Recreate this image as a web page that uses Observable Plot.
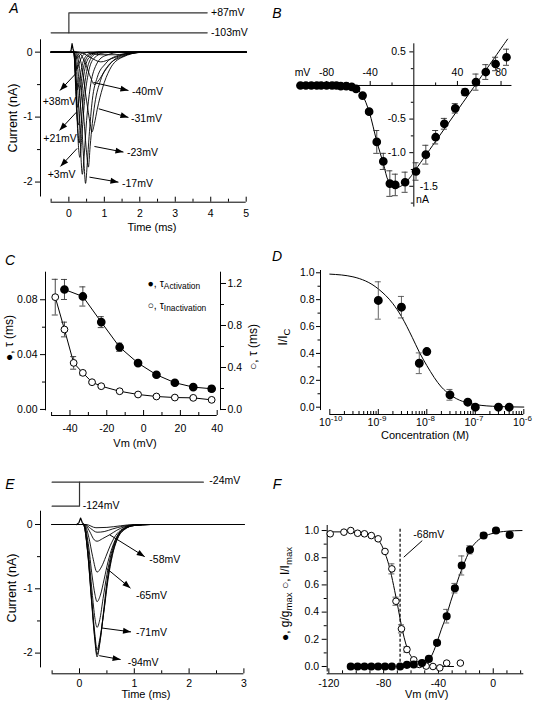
<!DOCTYPE html>
<html><head><meta charset="utf-8">
<script src="https://cdn.jsdelivr.net/npm/d3@7"></script>
<script src="https://cdn.jsdelivr.net/npm/@observablehq/plot@0.6"></script>
<style>
html,body{margin:0;padding:0;background:#fff;}
#wrap{position:relative;width:538px;height:708px;background:#fff;overflow:hidden;font-family:"Liberation Sans",Arial,Helvetica,sans-serif;color:#000;}
#wrap svg{position:absolute;left:0;top:0;}
.lab{position:absolute;white-space:nowrap;line-height:1;}
.lab sub{font-size:0.8em;vertical-align:-0.3em;line-height:0;}
</style></head><body><div id="wrap"></div>
<script>
// ---------------- DATA ----------------
// Panel A: current traces (t ms, I nA) per test potential
const aTraces = [
  {v:"+70", pts:[[-0.5,0],[0.14,0],[0.18,-0.05],[0.22,-0.1],[0.27,-0.07],[0.36,-0.02],[0.5,0],[5,0]]},
  {v:"+55", pts:[[-0.5,0],[0.14,0],[0.18,-0.12],[0.23,-0.26],[0.29,-0.17],[0.38,-0.06],[0.55,0],[5,0]]},
  {v:"+38", pts:[[-0.5,0],[0.14,0],[0.18,-0.25],[0.24,-0.58],[0.3,-0.42],[0.4,-0.15],[0.55,-0.03],[0.8,0],[5,0]]},
  {v:"+30", pts:[[-0.5,0],[0.14,0],[0.18,-0.32],[0.25,-0.85],[0.31,-0.6],[0.41,-0.24],[0.56,-0.05],[0.85,0],[5,0]]},
  {v:"+21", pts:[[-0.5,0],[0.14,0],[0.18,-0.4],[0.22,-0.92],[0.27,-1.12],[0.33,-0.8],[0.42,-0.36],[0.56,-0.09],[0.85,0],[5,0]]},
  {v:"+12", pts:[[-0.5,0],[0.14,0],[0.19,-0.42],[0.24,-1.05],[0.29,-1.4],[0.35,-1.05],[0.44,-0.52],[0.56,-0.17],[0.75,-0.03],[1.1,0],[5,0]]},
  {v:"+3",  pts:[[-0.5,0],[0.14,0],[0.2,-0.5],[0.25,-1.25],[0.31,-1.62],[0.37,-1.25],[0.45,-0.7],[0.55,-0.32],[0.7,-0.1],[1,-0.01],[1.4,0],[5,0]]},
  {v:"-7",  pts:[[-0.5,0],[0.15,0],[0.22,-0.3],[0.3,-1.1],[0.38,-1.88],[0.43,-1.6],[0.5,-1.05],[0.6,-0.55],[0.75,-0.22],[1,-0.06],[1.5,0],[5,0]]},
  {v:"-17", pts:[[-0.5,0],[0.18,0],[0.26,-0.3],[0.36,-1.1],[0.43,-1.75],[0.47,-2.02],[0.52,-1.7],[0.57,-1.3],[0.66,-0.74],[0.8,-0.39],[1.03,-0.18],[1.4,-0.05],[2,0],[5,0]]},
  {v:"-23", pts:[[-0.5,0],[0.2,0],[0.3,-0.25],[0.42,-1.0],[0.5,-1.55],[0.55,-1.77],[0.6,-1.45],[0.66,-1.1],[0.73,-0.8],[0.89,-0.44],[1.12,-0.2],[1.5,-0.07],[2,0],[5,0]]},
  {v:"-31", pts:[[-0.5,0],[0.22,0],[0.35,-0.18],[0.5,-0.75],[0.6,-1.1],[0.65,-1.23],[0.72,-1.1],[0.8,-0.88],[0.95,-0.55],[1.15,-0.27],[1.5,-0.08],[2.1,0],[5,0]]},
  {v:"-40", pts:[[-0.5,0],[0.25,0],[0.45,-0.15],[0.62,-0.4],[0.72,-0.5],[0.82,-0.45],[1,-0.3],[1.25,-0.13],[1.6,-0.04],[2.2,0],[5,0]]},
  {v:"-48", pts:[[-0.5,0],[0.3,0],[0.6,-0.08],[0.9,-0.15],[1.2,-0.1],[1.6,-0.03],[2.2,0],[5,0]]},
  {v:"-53", pts:[[-0.5,0],[0.4,0],[0.9,-0.04],[1.3,-0.04],[1.8,-0.01],[2.3,0],[5,0]]}
];
const aSpike = [[0,0],[0.06,0.02],[0.09,0.13],[0.12,0.04],[0.15,0]];
const aProtocolStep = [[-0.5,-103],[0,-103],[0,87],[3.9,87]];
const aProtocolHold = [[0,-103],[3.9,-103]];
const aArrows = [
  {label:"+38mV", x1:0.2,   y1:-0.328, x2:-0.251, y2:-0.59},
  {label:"+21mV", x1:0.214, y1:-0.924, x2:-0.265, y2:-1.205},
  {label:"+3mV",  x1:0.234, y1:-1.482, x2:-0.237, y2:-1.759},
  {label:"-40mV", x1:0.694, y1:-0.467, x2:1.68,  y2:-0.59},
  {label:"-31mV", x1:0.843, y1:-0.872, x2:1.68,  y2:-1.005},
  {label:"-23mV", x1:0.72,  y1:-1.452, x2:1.539, y2:-1.539},
  {label:"-17mV", x1:0.58,  y1:-1.924, x2:1.398, y2:-2.001}
];
const aTimeTicks = [0,1,2,3,4,5];
const aTimeMinor = [-0.5,0.5,1.5,2.5,3.5,4.5];
const aCurrentTicks = [0,-1,-2];
const aCurrentMinor = [-0.5,-1.5];

// Panel B: I-V relation
const bVoltage = [-104,-99,-94,-89,-85,-80,-75,-71,-67,-62,-57,-53,-47,-41,-34,-28,-22,-17,-8,2,11,20,28,38,47,57,66,75,85];
const bCurrent = [0,0,0,0,0,0,0,0,-0.01,-0.01,-0.02,-0.05,-0.15,-0.39,-0.84,-1.13,-1.46,-1.48,-1.44,-1.28,-1.03,-0.77,-0.57,-0.34,-0.10,0.05,0.20,0.32,0.42];
const bError   = [0,0,0,0,0,0,0,0,0,0,0,0.01,0.02,0.03,0.17,0.12,0.19,0.16,0.15,0.13,0.14,0.10,0.08,0.07,0.05,0.12,0.11,0.10,0.12];
const bFitVoltage = [-104,-70,-58,-52,-47,-41,-34,-28,-23,-17,-11,-3,0,20,40,60,86];
const bFitCurrent = [0,0,-0.02,-0.06,-0.15,-0.39,-0.83,-1.16,-1.43,-1.52,-1.49,-1.36,-1.29,-0.83,-0.37,0.09,0.69];
const bXTicks = [-80,-40,40,80];
const bXMinor = [-60,-20,20,60];
const bYTicksLeft = [0.5,-0.5,-1.0];
const bYTicksRight = [-1.5];
const bYMinor = [0.25,-0.25,-0.75,-1.25,-1.75];

// Panel C: time constants
const cVoltAct = [-43,-33,-23,-13,-3,7,17,27,37];
const cTauAct = [0.0875,0.0824,0.0637,0.0454,0.0338,0.0253,0.0195,0.0163,0.0151];
const cTauActErr = [0.0073,0.007,0.004,0.003,0.0012,0.001,0.001,0.001,0.002];
const cVoltInact = [-48,-43,-38,-33,-28,-23,-13,-3,7,17,27,37];
const cTauInact = [1.07,0.762,0.444,0.349,0.26,0.222,0.174,0.143,0.124,0.114,0.111,0.092];
const cTauInactErr = [0.17,0.07,0.06,0.02,0.01,0.01,0.01,0.01,0.01,0.01,0.01,0.01];
const cXTicks = [-40,-20,0,20,40];
const cXMinor = [-50,-30,-10,10,30];
const cLeftTicks = [0,0.04,0.08];
const cLeftMinor = [0.02,0.06];
const cRightTicks = [0,0.4,0.8,1.2];
const cRightMinor = [0.2,0.6,1.0];

// Panel D: concentration-response
const dConc = [1e-9,3e-9,7e-9,1e-8,3e-8,7e-8,1e-7,3e-7,5e-7];
const dRatio = [0.794,0.744,0.327,0.414,0.092,0.037,0.0,0.0,0.0];
const dErr = [0.139,0.08,0.077,0.01,0.04,0.01,0,0,0];
const dFitConc = [1e-10,3e-10,1e-9,2e-9,3e-9,5e-9,7e-9,1e-8,2e-8,3e-8,1e-7,3e-7,1e-6];
const dFitRatio = [0.99,0.97,0.88,0.77,0.675,0.52,0.41,0.31,0.15,0.094,0.02,0.005,0.001];
const dDecades = [1e-10,1e-9,1e-8,1e-7,1e-6];
const dYTicks = [0,0.2,0.4,0.6,0.8,1.0];
const dYMinor = [0.1,0.3,0.5,0.7,0.9];

// Panel E: inactivation traces (t ms, I nA) per prepulse potential
const eTraces = [
  {pre:-124, pts:[[-0.5,0],[0.07,0],[0.15,-0.45],[0.22,-1.2],[0.28,-1.8],[0.32,-2.06],[0.37,-1.85],[0.43,-1.42],[0.5,-0.9],[0.58,-0.5],[0.68,-0.22],[0.8,-0.08],[1,-0.015],[1.3,0],[3,0]]},
  {pre:-104, pts:[[-0.5,0],[0.07,0],[0.15,-0.44],[0.22,-1.18],[0.28,-1.77],[0.32,-2.02],[0.37,-1.83],[0.44,-1.38],[0.51,-0.88],[0.59,-0.5],[0.69,-0.22],[0.81,-0.08],[1,-0.015],[1.3,0],[3,0]]},
  {pre:-84,  pts:[[-0.5,0],[0.07,0],[0.15,-0.42],[0.22,-1.13],[0.28,-1.7],[0.32,-1.95],[0.37,-1.78],[0.45,-1.32],[0.52,-0.86],[0.6,-0.48],[0.7,-0.21],[0.82,-0.08],[1,-0.015],[1.3,0],[3,0]]},
  {pre:-71,  pts:[[-0.5,0],[0.08,0],[0.16,-0.4],[0.23,-1.05],[0.28,-1.45],[0.32,-1.6],[0.37,-1.48],[0.43,-1.15],[0.5,-0.78],[0.58,-0.45],[0.68,-0.2],[0.8,-0.07],[1,-0.015],[1.3,0],[3,0]]},
  {pre:-68,  pts:[[-0.5,0],[0.08,0],[0.16,-0.3],[0.23,-0.8],[0.28,-1.08],[0.32,-1.2],[0.38,-1.1],[0.45,-0.85],[0.52,-0.58],[0.6,-0.35],[0.7,-0.16],[0.82,-0.06],[1,-0.01],[1.3,0],[3,0]]},
  {pre:-65,  pts:[[-0.5,0],[0.09,0],[0.17,-0.2],[0.24,-0.5],[0.32,-0.74],[0.4,-0.66],[0.48,-0.5],[0.56,-0.33],[0.66,-0.17],[0.78,-0.07],[0.95,-0.015],[1.2,0],[3,0]]},
  {pre:-58,  pts:[[-0.5,0],[0.1,0],[0.18,-0.1],[0.27,-0.24],[0.32,-0.26],[0.42,-0.22],[0.55,-0.16],[0.68,-0.09],[0.82,-0.035],[1,-0.01],[1.25,0],[3,0]]},
  {pre:-54,  pts:[[-0.5,0],[0.1,0],[0.2,-0.06],[0.32,-0.12],[0.45,-0.11],[0.6,-0.07],[0.78,-0.03],[1,-0.005],[1.25,0],[3,0]]},
  {pre:-49,  pts:[[-0.5,0],[0.12,0],[0.3,-0.05],[0.5,-0.045],[0.75,-0.02],[1,0],[3,0]]}
];
const eSpike = [[-0.05,0],[-0.01,0.03],[0.02,0.1],[0.05,0.03],[0.08,0]];
const eProtocolTest = [[-0.5,-24],[2.26,-24]];
const eProtocolPre = [[-0.5,-124],[0,-124],[0,-24]];
const eArrows = [
  {label:"-58mV", x1:0.55, y1:-0.16, x2:1.19, y2:-0.5},
  {label:"-65mV", x1:0.49, y1:-0.68, x2:0.93, y2:-0.99},
  {label:"-71mV", x1:0.41, y1:-1.61, x2:0.94, y2:-1.67},
  {label:"-94mV", x1:0.36, y1:-2.04, x2:0.75, y2:-2.1}
];
const eTimeTicks = [0,1,2,3];
const eTimeMinor = [-0.5,0.5,1.5,2.5];
const eCurrentTicks = [0,-1,-2];
const eCurrentMinor = [-0.5,-1.5];

// Panel F: activation / steady-state inactivation
const fVoltInact = [-119,-109,-104,-99,-94,-89,-84,-79,-74,-71,-67,-63,-58,-54,-49,-44,-39,-34,-24];
const fInact = [0.976,0.988,1.0,0.98,0.976,0.963,0.939,0.846,0.718,0.48,0.277,0.125,0.049,0.015,0.003,0.0,-0.01,0.025,0.025];
const fInactErr = [0,0,0,0,0,0,0.01,0.01,0.037,0.03,0.03,0.02,0.01,0,0,0,0,0,0];
const fVoltAct = [-104,-99,-94,-89,-84,-79,-74,-68,-63,-58,-52,-47,-41,-34,-28,-23,-17,-7,2,12];
const fAct = [0,0,0,0,0,0,0,0,0.012,0.015,0.025,0.056,0.174,0.37,0.576,0.743,0.858,0.963,1.0,0.968];
const fActErr = [0,0,0,0,0,0,0,0,0,0,0,0.01,0.015,0.05,0.035,0.07,0.03,0.02,0.01,0.01];
const fInactFitV = [-121,-100,-90,-85,-80,-75,-72,-70,-67,-63,-58,-54,-50,-40,-29];
const fInactFitY = [0.99,0.99,0.975,0.945,0.86,0.7,0.56,0.46,0.3,0.14,0.05,0.02,0.008,0.001,0];
const fActFitV = [-54,-50,-47,-44,-41,-38,-34,-31,-28,-25,-22,-17,-12,-7,0,10,21];
const fActFitY = [0.005,0.02,0.045,0.1,0.18,0.27,0.38,0.48,0.57,0.66,0.74,0.855,0.92,0.955,0.98,0.995,1.0];
const fHalfV = [-68];
const fLeader = [{x1: -51.8, y1: 0.926, x2: -65.3, y2: 0.804}];
const fXTicks = [-120,-80,-40,0];
const fXMinor = [-110,-100,-90,-70,-60,-50,-30,-20,-10,10,20];
const fYTicks = [0,0.2,0.4,0.6,0.8,1.0];
const fYMinor = [0.1,0.3,0.5,0.7,0.9];

// ---------------- LAYOUT ----------------
const W = 538, H = 708;
const FONT = '"Liberation Sans", Arial, Helvetica, sans-serif';
const wrap = document.getElementById("wrap");
const blank = () => "";
const f0 = d => String(d);
const f1 = d => d.toFixed(1);
const f2 = d => d.toFixed(2);
const AXW = 1;

function panel(box, x, y, marks) {
  const svg = Plot.plot({
    width: W, height: H,
    marginLeft: box[0], marginRight: W - box[1], marginTop: box[2], marginBottom: H - box[3],
    x: {axis: null, ...x}, y: {axis: null, ...y},
    style: {background: "transparent", fontFamily: FONT, fontSize: "10.5px", color: "black", overflow: "visible"},
    marks
  });
  wrap.appendChild(svg);
  return svg;
}
function label(html, x, y, o = {}) {
  const d = document.createElement("div");
  d.className = "lab";
  d.innerHTML = html;
  const tx = o.anchor === "start" ? "0" : o.anchor === "end" ? "-100%" : "-50%";
  d.style.left = x + "px"; d.style.top = y + "px";
  d.style.fontSize = (o.size || 10.5) + "px";
  if (o.italic) d.style.fontStyle = "italic";
  d.style.transform = `translate(${tx},-50%)` + (o.rotate ? ` rotate(${o.rotate}deg)` : "");
  wrap.appendChild(d);
}
function rows(xs, ys, es) { return xs.map((x, i) => ({x, y: ys[i], e: es ? es[i] : 0})); }
function errBars(data, stroke = "#333") {
  const r = data.filter(d => d.e > 0);
  return [
    Plot.ruleX(r, {x: "x", y1: d => d.y - d.e, y2: d => d.y + d.e, stroke, strokeWidth: 0.9}),
    Plot.ruleY(r, {y: d => d.y + d.e, x1: "x", x2: "x", insetLeft: -3, insetRight: -3, stroke, strokeWidth: 0.9}),
    Plot.ruleY(r, {y: d => d.y - d.e, x1: "x", x2: "x", insetLeft: -3, insetRight: -3, stroke, strokeWidth: 0.9})
  ];
}
// bottom axis: ticks pointing up (inward), labels below
function bottomAxis(major, minor, fmt, ymin, pad) {
  return [
    Plot.axisX({ticks: major, tickSize: 0, tickPadding: pad, tickFormat: fmt, label: null}),
    Plot.ruleX(major, {x: d => d, y1: ymin, y2: ymin, insetTop: -5, strokeWidth: AXW}),
    Plot.ruleX(minor, {x: d => d, y1: ymin, y2: ymin, insetTop: -3, strokeWidth: AXW})
  ];
}
function traceRows(traces, key) {
  return traces.flatMap(tr => tr.pts.map(([t, i]) => ({k: tr[key], t, i})));
}
const xy = {x: d => d[0], y: d => d[1]};

// filled arrowhead marker (falls back to Plot.arrow if custom markers unsupported)
function filledHead(color) {
  const m = document.createElementNS("http://www.w3.org/2000/svg", "marker");
  m.setAttribute("viewBox", "-8 -4 9 8");
  m.setAttribute("markerWidth", 9); m.setAttribute("markerHeight", 8);
  m.setAttribute("markerUnits", "userSpaceOnUse");
  m.setAttribute("orient", "auto");
  m.setAttribute("overflow", "visible");
  m.setAttribute("refX", 0); m.setAttribute("refY", 0);
  const p = document.createElementNS("http://www.w3.org/2000/svg", "path");
  p.setAttribute("d", "M-8,-3L0,0L-8,3Z");
  p.setAttribute("fill", color || "black");
  p.setAttribute("stroke", "none");
  m.appendChild(p);
  return m;
}
let useCustom = true;
function arrows(data) {
  if (useCustom) return Plot.link(data, {x1: "x1", y1: "y1", x2: "x2", y2: "y2", strokeWidth: 1, markerEnd: filledHead});
  return Plot.arrow(data, {x1: "x1", y1: "y1", x2: "x2", y2: "y2", headLength: 6, headAngle: 50, strokeWidth: 1});
}
function safePanel(box, x, y, makeMarks) {
  try { return panel(box, x, y, makeMarks()); }
  catch (e) { useCustom = false; return panel(box, x, y, makeMarks()); }
}

// ---------------- PANEL A ----------------
const A_X = [-0.8, 5], A_Y = [-2.31, 0.19];
safePanel([40, 245.7, 39.3, 201.7], {domain: A_X}, {domain: A_Y}, () => [
  Plot.ruleX([A_X[0]], {y1: -2.23, y2: A_Y[1], strokeWidth: AXW}),
  Plot.ruleY([A_Y[0]], {x1: -0.5, x2: 5, strokeWidth: AXW}),
  ...bottomAxis(aTimeTicks, aTimeMinor, f0, A_Y[0], 7),
  Plot.axisY({ticks: aCurrentTicks, tickSize: 5, tickPadding: 3, tickFormat: f0, label: null}),
  Plot.axisY({ticks: aCurrentMinor, tickSize: 3, tickFormat: blank, label: null}),
  Plot.line(traceRows(aTraces, "v"), {x: "t", y: "i", z: "k", curve: "monotone-x", strokeWidth: 0.9}),
  Plot.line(aSpike, {...xy, strokeWidth: 1.2}),
  arrows(aArrows)
]);
panel([40, 245.7, 12.3, 32.3], {domain: A_X}, {domain: [-103, 87]}, [
  Plot.line(aProtocolStep, {...xy, stroke: "#333", strokeWidth: 1.2}),
  Plot.line(aProtocolHold, {...xy, stroke: "#333", strokeWidth: 1.2})
]);
label("A", 14, 8, {size: 14, italic: true});
label("+87mV", 211, 12.3, {anchor: "start"});
label("-103mV", 211, 32.3, {anchor: "start"});
label("Current (nA)", 12.5, 118, {rotate: -90, size: 12.5});
label("Time (ms)", 152, 227, {size: 11});
label("+38mV", 42.7, 100.5, {anchor: "start"});
label("+21mV", 43.3, 137.5, {anchor: "start"});
label("+3mV", 47.7, 174, {anchor: "start"});
label("-40mV", 132, 90.5, {anchor: "start"});
label("-31mV", 131, 117.5, {anchor: "start"});
label("-23mV", 127, 152, {anchor: "start"});
label("-17mV", 122, 182.5, {anchor: "start"});

// ---------------- PANEL B ----------------
panel([293.4, 516.9, 41.3, 209.3], {domain: [-110, 95]}, {domain: [-1.85, 0.65]}, [
  Plot.ruleY([0], {x1: -85, x2: 90, strokeWidth: AXW}),
  Plot.ruleX([0], {y1: -1.81, y2: 0.62, strokeWidth: AXW}),
  Plot.ruleX(bXTicks, {x: d => d, y1: 0, y2: 0, insetTop: -4, strokeWidth: AXW}),
  Plot.ruleX(bXMinor, {x: d => d, y1: 0, y2: 0, insetTop: -2.5, strokeWidth: AXW}),
  Plot.ruleY([...bYTicksLeft, ...bYTicksRight], {y: d => d, x1: 0, x2: 0, insetLeft: -4, strokeWidth: AXW}),
  Plot.ruleY(bYMinor, {y: d => d, x1: 0, x2: 0, insetLeft: -2.5, strokeWidth: AXW}),
  Plot.text(bXTicks, {x: d => d, y: 0, text: f0, dy: -13}),
  Plot.text(bYTicksLeft, {x: 0, y: d => d, text: f1, textAnchor: "end", dx: -8}),
  Plot.text(bYTicksRight, {x: 0, y: d => d, text: f1, textAnchor: "start", dx: 6}),
  Plot.line(rows(bFitVoltage, bFitCurrent), {x: "x", y: "y", curve: "catmull-rom", strokeWidth: 1}),
  ...errBars(rows(bVoltage, bCurrent, bError)),
  Plot.dot(rows(bVoltage, bCurrent), {x: "x", y: "y", r: 3.6, fill: "black", stroke: "black"})
]);
label("B", 277, 13, {size: 14, italic: true});
label("mV", 302.5, 71.5);
label("nA", 422.5, 199);

// ---------------- PANEL C ----------------
const C_X = [-53.3, 41.8], C_Y = [-0.0044, 0.1001];
panel([45, 220, 271.7, 415], {domain: C_X}, {domain: C_Y}, [
  Plot.ruleX([C_X[0]], {y1: -0.001, y2: C_Y[1], strokeWidth: AXW}),
  Plot.ruleY([C_Y[0]], {x1: -50, x2: 40, strokeWidth: AXW}),
  ...bottomAxis(cXTicks, cXMinor, f0, C_Y[0], 9),
  Plot.axisY({ticks: cLeftTicks, tickSize: 5, tickPadding: 3, tickFormat: f2, label: null}),
  Plot.axisY({ticks: cLeftMinor, tickSize: 3, tickFormat: blank, label: null}),
  Plot.line(rows(cVoltAct, cTauAct), {x: "x", y: "y", strokeWidth: 1}),
  ...errBars(rows(cVoltAct, cTauAct, cTauActErr)),
  Plot.dot(rows(cVoltAct, cTauAct), {x: "x", y: "y", r: 3.6, fill: "black", stroke: "black"})
]);
panel([45, 220, 271.7, 415], {domain: C_X}, {domain: [-0.057, 1.3076]}, [
  Plot.ruleX([C_X[1]], {y1: -0.01, y2: 1.3076, strokeWidth: AXW}),
  Plot.axisY({anchor: "right", ticks: cRightTicks, tickSize: 5, tickPadding: 2, tickFormat: f1, label: null}),
  Plot.axisY({anchor: "right", ticks: cRightMinor, tickSize: 3, tickFormat: blank, label: null}),
  Plot.line(rows(cVoltInact, cTauInact), {x: "x", y: "y", strokeWidth: 1}),
  ...errBars(rows(cVoltInact, cTauInact, cTauInactErr)),
  Plot.dot(rows(cVoltInact, cTauInact), {x: "x", y: "y", r: 3.4, fill: "white", stroke: "black", strokeWidth: 1})
]);
label("C", 10, 260, {size: 14, italic: true});
label("Vm (mV)", 135, 443, {size: 11});
label("&#9679;, &tau; (ms)", 8.5, 338, {rotate: -90, size: 12});
label("&#9675;, &tau; (ms)", 252.5, 346.7, {rotate: -90, size: 12});
label("&#9679;, &tau;<sub>Activation</sub>", 147.5, 283.3, {anchor: "start", size: 10.5});
label("&#9675;, &tau;<sub>Inactivation</sub>", 147.5, 305, {anchor: "start", size: 10.5});

// ---------------- PANEL D ----------------
const D_X = [Math.pow(10, -10.192), 1e-6], D_Y = [-0.0543, 1.017];
const dMinor = d3.range(-10, -6).flatMap(k => d3.range(2, 10).map(m => m * Math.pow(10, k)));
panel([320, 523.3, 270, 414], {type: "log", domain: D_X}, {domain: D_Y}, [
  Plot.ruleX([D_X[0]], {y1: -0.025, y2: D_Y[1], strokeWidth: AXW}),
  Plot.ruleY([D_Y[0]], {x1: 1e-10, x2: 1e-6, strokeWidth: AXW}),
  Plot.ruleX(dDecades, {x: d => d, y1: D_Y[0], y2: D_Y[0], insetTop: -5, strokeWidth: AXW}),
  Plot.ruleX(dMinor, {x: d => d, y1: D_Y[0], y2: D_Y[0], insetTop: -3, strokeWidth: AXW}),
  Plot.text(dDecades, {x: d => d, frameAnchor: "bottom", text: () => "10", textAnchor: "end", dx: 1, dy: 11}),
  Plot.text(dDecades, {x: d => d, frameAnchor: "bottom", text: d => String(Math.round(Math.log10(d))), textAnchor: "start", dx: 1, dy: 6, fontSize: 8}),
  Plot.axisY({ticks: dYTicks, tickSize: 4, tickPadding: 2, tickFormat: f1, label: null}),
  Plot.axisY({ticks: dYMinor, tickSize: 2.5, tickFormat: blank, label: null}),
  Plot.line(rows(dFitConc, dFitRatio), {x: "x", y: "y", curve: "monotone-x", strokeWidth: 1}),
  ...errBars(rows(dConc, dRatio, dErr), "#555"),
  Plot.dot(rows(dConc, dRatio), {x: "x", y: "y", r: 3.7, fill: "black", stroke: "black"})
]);
label("D", 277, 256, {size: 14, italic: true});
label("I/I<sub>C</sub>", 283.3, 336.7, {rotate: -90, size: 12});
label("Concentration (M)", 425, 435, {size: 11});

// ---------------- PANEL E ----------------
const E_X = [-0.712, 3], E_Y = [-2.322, 0.207];
safePanel([40, 243.4, 510.7, 673.3], {domain: E_X}, {domain: E_Y}, () => [
  Plot.ruleX([E_X[0]], {y1: -2.23, y2: E_Y[1], strokeWidth: AXW}),
  Plot.ruleY([E_Y[0]], {x1: -0.5, x2: 3, strokeWidth: AXW}),
  ...bottomAxis(eTimeTicks, eTimeMinor, f0, E_Y[0], 5.5),
  Plot.axisY({ticks: eCurrentTicks, tickSize: 5, tickPadding: 3, tickFormat: f0, label: null}),
  Plot.axisY({ticks: eCurrentMinor, tickSize: 3, tickFormat: blank, label: null}),
  Plot.line(traceRows(eTraces, "pre"), {x: "t", y: "i", z: "k", curve: "monotone-x", strokeWidth: 0.9}),
  Plot.line(eSpike, {...xy, strokeWidth: 1.2}),
  arrows(eArrows)
]);
panel([40, 243.4, 481.7, 505.7], {domain: E_X}, {domain: [-124, -24]}, [
  Plot.line(eProtocolTest, {...xy, stroke: "#333", strokeWidth: 1.2}),
  Plot.line(eProtocolPre, {...xy, stroke: "#333", strokeWidth: 1.2})
]);
label("E", 10, 484, {size: 14, italic: true});
label("-24mV", 209.3, 480, {anchor: "start"});
label("-124mV", 82.7, 505, {anchor: "start"});
label("Current (nA)", 11.7, 588, {rotate: -90, size: 12.5});
label("Time (ms)", 146, 694, {size: 11});
label("-58mV", 149.3, 559, {anchor: "start"});
label("-65mV", 136, 595, {anchor: "start"});
label("-71mV", 136, 632, {anchor: "start"});
label("-94mV", 127.7, 661.7, {anchor: "start"});

// ---------------- PANEL F ----------------
const F_X = [-121.2, 22.3], F_Y = [-0.0537, 1.037];
panel([326.7, 523.3, 525, 673.3], {domain: F_X}, {domain: F_Y}, [
  Plot.ruleX([F_X[0]], {y1: -0.04, y2: F_Y[1], strokeWidth: AXW}),
  Plot.ruleY([F_Y[0]], {x1: F_X[0], x2: F_X[1], strokeWidth: AXW}),
  ...bottomAxis(fXTicks, fXMinor, f0, F_Y[0], 5.5),
  Plot.axisY({ticks: fYTicks, tickSize: 5, tickPadding: 3, tickFormat: f1, label: null}),
  Plot.axisY({ticks: fYMinor, tickSize: 3, tickFormat: blank, label: null}),
  Plot.ruleX(fHalfV, {x: d => d, y1: -0.005, y2: 1.013, strokeDasharray: "3,2", strokeWidth: 1.2}),
  Plot.link(fLeader, {x1: "x1", y1: "y1", x2: "x2", y2: "y2", strokeWidth: 1}),
  Plot.line(rows(fInactFitV, fInactFitY), {x: "x", y: "y", curve: "monotone-x", strokeWidth: 1}),
  Plot.line(rows(fActFitV, fActFitY), {x: "x", y: "y", curve: "monotone-x", strokeWidth: 1}),
  ...errBars(rows(fVoltInact, fInact, fInactErr), "#555"),
  ...errBars(rows(fVoltAct, fAct, fActErr), "#555"),
  Plot.dot(rows(fVoltInact, fInact), {x: "x", y: "y", r: 3.3, fill: "white", stroke: "black", strokeWidth: 1}),
  Plot.dot(rows(fVoltAct, fAct), {x: "x", y: "y", r: 3.3, fill: "black", stroke: "black"})
]);
label("F", 277, 484, {size: 14, italic: true});
label("-68mV", 413.3, 534, {anchor: "start"});
label("Vm (mV)", 426.7, 694, {size: 11});
label("&#9679;, g/g<sub>max</sub> &#9675;, I/I<sub>max</sub>", 285, 594, {rotate: -90, size: 12});
</script></body></html>
